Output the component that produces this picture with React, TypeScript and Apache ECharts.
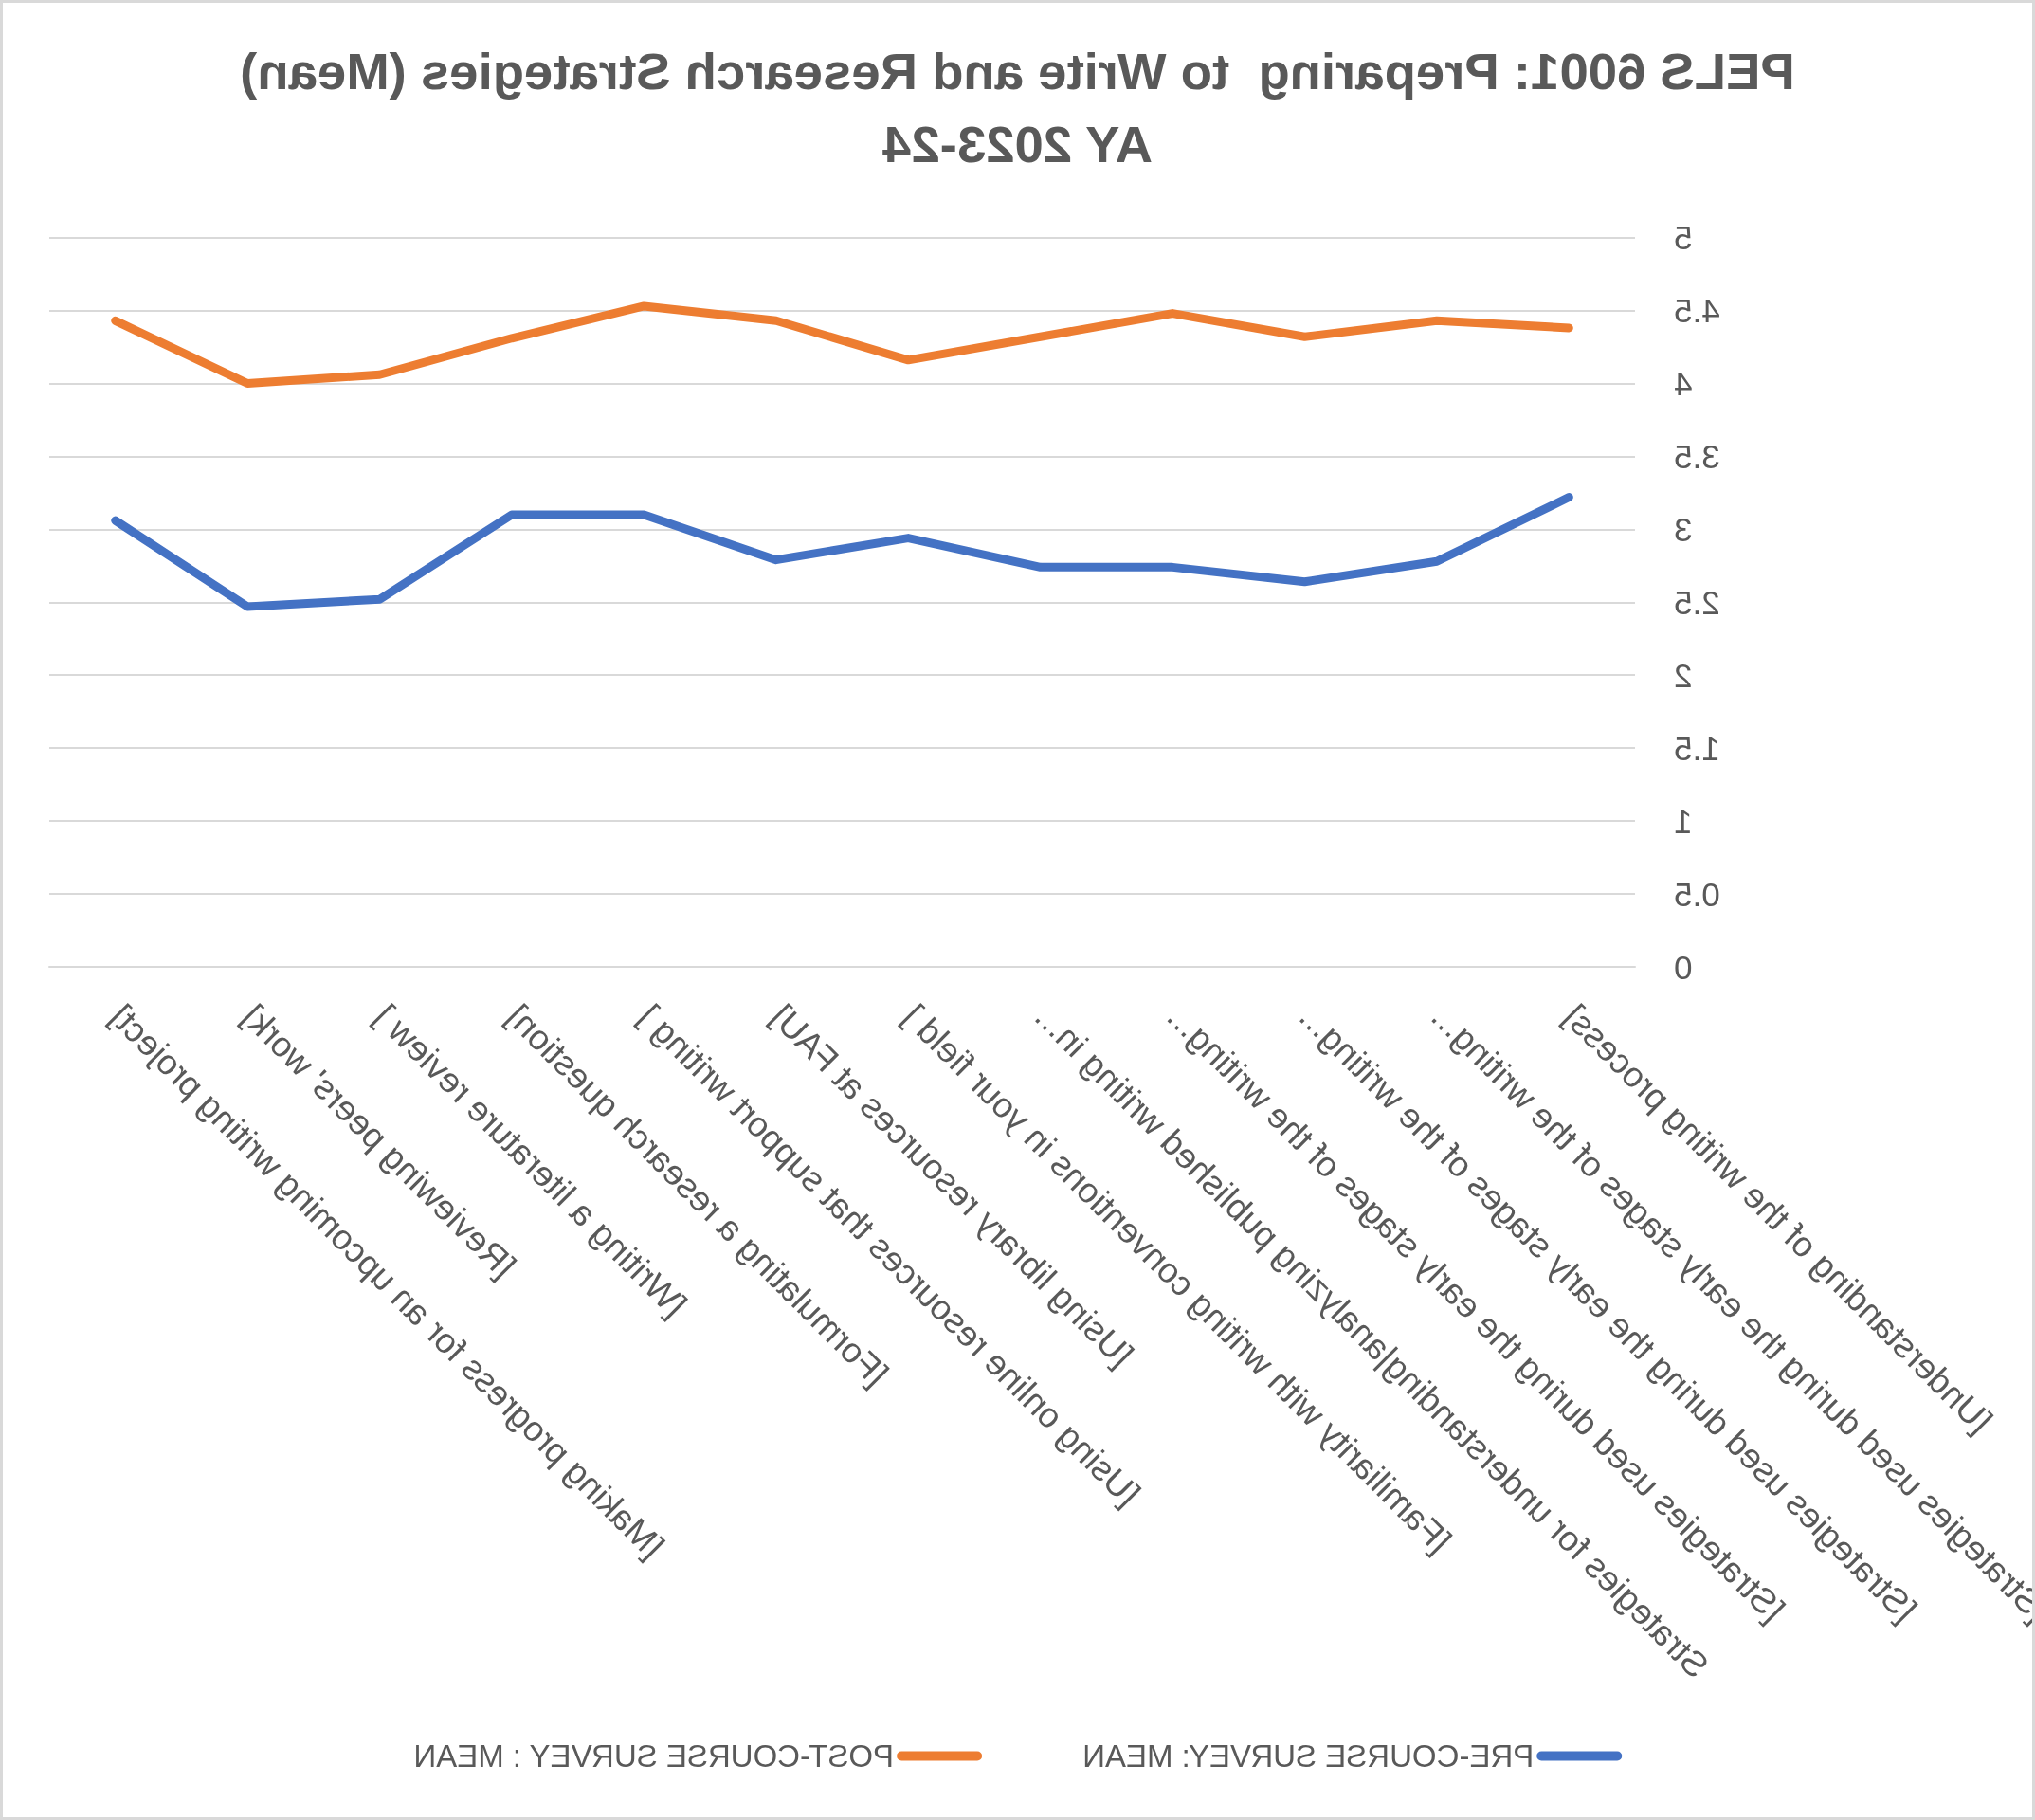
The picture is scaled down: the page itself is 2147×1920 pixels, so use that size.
import React, { useEffect, useRef } from "react";
import * as echarts from "echarts";

// The reference is a horizontally mirrored picture of the chart; the chart is drawn
// normally and the whole canvas is mirrored with CSS (texts stay real texts).

const titleLine1 = "PELS 6001: Preparing  to Write and Research Strategies (Mean)";
const titleLine2 = "AY 2023-24";

const categories = [
  "[Understanding of the writing process]",
  "[Strategies used during the early stages of the writing...",
  "[Strategies used during the early stages of the writing...",
  "[Strategies used during the early stages of the writing...",
  "Strategies for understanding|analyzing published writing in...",
  "[Familiarity with writing conventions in your field ]",
  "[Using library resources at FAU]",
  "[Using online resources that support writing ]",
  "[Formulating a research question]",
  "[Writing a literature review ]",
  "[Reviewing peers' work]",
  "[Making progress for an upcoming writing project]",
];

const preCourseMean = [3.22, 2.78, 2.64, 2.74, 2.74, 2.94, 2.79, 3.1, 3.1, 2.52, 2.47, 3.06];
const postCourseMean = [4.38, 4.43, 4.32, 4.48, 4.32, 4.16, 4.43, 4.53, 4.31, 4.06, 4.0, 4.43];

const seriesNames = ["PRE-COURSE SURVEY: MEAN", "POST-COURSE SURVEY : MEAN"];
const seriesColors = ["#4472C4", "#ED7D31"];

const yMin = 0;
const yMax = 5;
const yInterval = 0.5;

const TEXT = "#595959";
const GRID = "#D9D9D9";
const FONT = "Liberation Sans";

export default function App() {
  const ref = useRef<HTMLDivElement>(null);

  useEffect(() => {
    const chart = echarts.init(ref.current as HTMLDivElement, null, { renderer: "svg" });
    const capsule = "path://M5,0H85A5,5,0,0,1,85,10H5A5,5,0,0,1,5,0Z";
    chart.setOption({
      animation: false,
      backgroundColor: "#ffffff",
      title: [
        {
          text: titleLine1,
          left: "center",
          top: 43,
          textStyle: { fontFamily: FONT, fontWeight: "bold", fontSize: 54.5, color: TEXT },
        },
        {
          text: titleLine2,
          left: "center",
          top: 120,
          textStyle: { fontFamily: FONT, fontWeight: "bold", fontSize: 54.5, color: TEXT },
        },
      ],
      graphic: [
        {
          type: "rect",
          shape: { x: 1.5, y: 1.5, width: 2144, height: 1917 },
          style: { fill: "none", stroke: GRID, lineWidth: 3 },
          silent: true,
          z: 100,
        },
      ],
      legend: {
        left: "center",
        top: 1831,
        itemWidth: 90,
        itemHeight: 10,
        itemGap: 106,
        textStyle: { fontFamily: FONT, fontSize: 33, color: TEXT, padding: [0, 0, 0, -2] },
        data: [
          { name: seriesNames[0], icon: capsule },
          { name: seriesNames[1], icon: capsule },
        ],
      },
      grid: {
        left: 422,
        right: 52,
        top: 250.6,
        bottom: 900,
        containLabel: false,
        outerBoundsMode: "none",
      },
      xAxis: {
        type: "category",
        data: categories,
        boundaryGap: true,
        axisLine: { show: true, lineStyle: { color: GRID, width: 2 } },
        axisTick: { show: false },
        axisLabel: {
          interval: 0,
          rotate: 45,
          margin: 19,
          verticalAlign: "top",
          padding: [0, 20, 0, 0],
          fontFamily: FONT,
          fontSize: 37,
          color: TEXT,
        },
        splitLine: { show: false },
      },
      yAxis: {
        type: "value",
        min: yMin,
        max: yMax,
        interval: yInterval,
        axisLine: { show: false },
        axisTick: { show: false },
        axisLabel: { margin: 41, fontFamily: FONT, fontSize: 35, color: TEXT },
        splitLine: { show: true, lineStyle: { color: GRID, width: 2 } },
      },
      series: [
        {
          name: seriesNames[0],
          type: "line",
          data: preCourseMean,
          symbol: "none",
          color: seriesColors[0],
          lineStyle: { width: 9, color: seriesColors[0], cap: "round", join: "round" },
          z: 3,
        },
        {
          name: seriesNames[1],
          type: "line",
          data: postCourseMean,
          symbol: "none",
          color: seriesColors[1],
          lineStyle: { width: 9, color: seriesColors[1], cap: "round", join: "round" },
          z: 3,
        },
      ],
    });
    return () => chart.dispose();
  }, []);

  return (
    <div
      ref={ref}
      style={{
        position: "fixed",
        left: 0,
        top: 0,
        width: 2147,
        height: 1920,
        transform: "scaleX(-1)",
        background: "#ffffff",
      }}
    />
  );
}
